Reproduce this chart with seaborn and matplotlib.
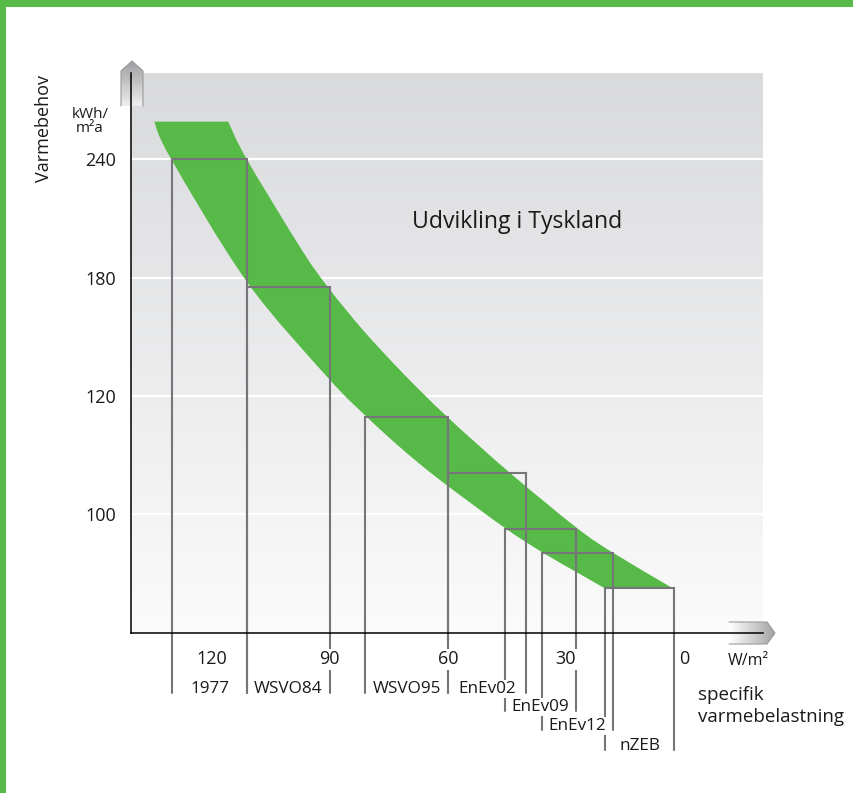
import numpy as np
import pandas as pd
import matplotlib
matplotlib.use("Agg")
import matplotlib.pyplot as plt
import matplotlib.transforms as mtransforms
from matplotlib.patches import Polygon, Rectangle, PathPatch
from matplotlib.path import Path
from matplotlib.lines import Line2D
import seaborn as sns

# ---- data -----------------------------------------------------------------
# Demand axis ticks (kWh/m²a); the axis is stretched piecewise, not linear
demand_ticks = [100, 120, 180, 240]
# Specific heating load axis ticks (W/m²), decreasing to the right
load_ticks = [120, 90, 60, 30, 0]

# Green band: upper/right edge and lower/left edge (load W/m², demand kWh/m²a)
band_upper_load = [115.8, 111.1, 97.1, 90.4, 81.6, 71.4, 60.2, 44.2, 27.2, 18.0, 2.8]
band_upper_demand = [259.0, 240.0, 194.0, 175.0, 153.5, 131.5, 116.5, 107.0, 97.7, 93.5, 87.5]
band_lower_load = [134.6, 130.4, 111.0, 90.4, 80.5, 71.4, 62.0, 45.5, 35.8, 27.2, 20.1]
band_lower_demand = [259.0, 240.4, 177.7, 129.1, 116.4, 110.9, 105.8, 97.7, 93.5, 90.2, 87.5]

# Building regulations: load range and demand level
standards = ["1977", "WSVO84", "WSVO95", "EnEv02", "EnEv09", "EnEv12", "nZEB"]
load_max = [130.0, 111.0, 81.0, 60.0, 45.5, 36.0, 20.0]
load_min = [111.0, 90.0, 60.0, 40.0, 27.5, 18.0, 2.5]
demand_max = [240.0, 175.0, 116.5, 107.0, 97.5, 93.5, 87.5]
label_row = [0, 0, 0, 0, 1, 2, 3]

# ---- style ----------------------------------------------------------------
sns.set_style("white")
plt.rcParams["font.family"] = ["Open Sans", "DejaVu Sans"]
TXT = "#1a1a1a"
GREEN = "#57b947"
FRAME_GRAY = "#76767a"

W, H = 854, 793
fig = plt.figure(figsize=(W / 100, H / 100), dpi=100)
fig.patch.set_facecolor("white")
# pixel coordinates, origin top-left
pxT = mtransforms.Affine2D().scale(1 / W, -1 / H).translate(0, 1) + fig.transFigure

ax_left, ax_right, ax_top, ax_bottom = 131, 763, 73.3, 632.7
ax = fig.add_axes([ax_left / W, (H - ax_bottom) / H,
                   (ax_right - ax_left) / W, (ax_bottom - ax_top) / H])


# piecewise-linear demand scale: 80..100..120 in 20 steps, then 60 steps
def fwd(v):
    v = np.asarray(v, dtype=float)
    return np.where(v <= 100, (v - 80) / 20,
                    np.where(v <= 120, 1 + (v - 100) / 20, 2 + (v - 120) / 60))


def inv(p):
    p = np.asarray(p, dtype=float)
    return np.where(p <= 1, 80 + 20 * p,
                    np.where(p <= 2, 100 + 20 * (p - 1), 120 + 60 * (p - 2)))


ax.set_yscale("function", functions=(fwd, inv))
y_lo, y_hi = 80.0, float(inv(4.725))
x_lo, x_hi = 140.5, -20.1
ax.set_xlim(x_lo, x_hi)
ax.set_ylim(y_lo, y_hi)
px_per_unit = (ax_bottom - ax_top) / 4.725


def below_axis(px):
    """demand value that sits px pixels below the x axis"""
    return float(inv(-px / px_per_unit))


# background gradient
grad = np.linspace(0, 1, 256)[:, None]
top_c = np.array([0.851, 0.855, 0.863])
bot_c = np.array([0.984, 0.984, 0.984])
img = top_c[None, None, :] * (1 - grad[..., None]) + bot_c[None, None, :] * grad[..., None]
ax.imshow(img, extent=[0, 1, 0, 1], transform=ax.transAxes, aspect="auto",
          zorder=0, interpolation="bilinear")

for v in demand_ticks:
    ax.axhline(v, color="white", lw=1.6, zorder=0.6)


# band: smooth (Catmull-Rom style Bezier) edges through the edge points
def smooth_segments(xs, ys):
    """Bezier control points through the given points, built in scale space."""
    P = np.column_stack([np.asarray(xs, float), fwd(ys)])
    Q = np.vstack([P[0], P, P[-1]])
    verts = []
    for i in range(1, len(Q) - 2):
        p0, p1, p2, p3 = Q[i - 1], Q[i], Q[i + 1], Q[i + 2]
        c1 = p1 + (p2 - p0) / 6.0
        c2 = p2 - (p3 - p1) / 6.0
        verts += [c1, c2, p2]
    V = np.array(verts)
    return np.column_stack([V[:, 0], inv(V[:, 1])])


up_start = (band_upper_load[0], band_upper_demand[0])
up_curve = smooth_segments(band_upper_load, band_upper_demand)
lo_curve = smooth_segments(band_lower_load[::-1], band_lower_demand[::-1])
verts = [up_start] + list(map(tuple, up_curve))
codes = [Path.MOVETO] + [Path.CURVE4] * len(up_curve)
verts.append((band_lower_load[-1], band_lower_demand[-1]))
codes.append(Path.LINETO)
verts += list(map(tuple, lo_curve))
codes += [Path.CURVE4] * len(lo_curve)
verts.append(up_start)
codes.append(Path.CLOSEPOLY)
ax.add_patch(PathPatch(Path(verts, codes), facecolor=GREEN, edgecolor="none", zorder=1.2))

# regulation frames, extended below the axis down to their label row
row_px = [60.5, 78.5, 97.5, 117.5]
rows = []
for i, name in enumerate(standards):
    bottom = below_axis(row_px[label_row[i]])
    for k, (lx, dy) in enumerate([(load_max[i], bottom), (load_max[i], demand_max[i]),
                                  (load_min[i], demand_max[i]), (load_min[i], bottom)]):
        rows.append({"standard": name, "step": k, "load": lx, "demand": dy})
frames = pd.DataFrame(rows)
n_before = len(ax.lines)
sns.lineplot(data=frames, x="load", y="demand", units="standard", estimator=None,
             sort=False, color=FRAME_GRAY, lw=1.5, ax=ax, legend=False)
for ln in ax.lines[n_before:]:
    ln.set_clip_on(False)
    ln.set_zorder(2)
    ln.set_solid_joinstyle("miter")

for i, name in enumerate(standards):
    cx = (load_max[i] + load_min[i]) / 2
    ax.text(cx, below_axis(row_px[label_row[i]]), name, ha="center", va="baseline",
            fontsize=12.3, color=TXT, zorder=4, clip_on=False,
            bbox=dict(facecolor="white", edgecolor="none", pad=0.6))

ax.set_xlabel("")
ax.set_ylabel("")

# axes, ticks
for s in ["top", "right"]:
    ax.spines[s].set_visible(False)
for s in ["left", "bottom"]:
    ax.spines[s].set_color("black")
    ax.spines[s].set_linewidth(1.1)
    ax.spines[s].set_zorder(2.5)
ax.set_xticks(load_ticks)
ax.set_xticklabels([str(t) for t in load_ticks])
ax.set_yticks(demand_ticks)
ax.set_yticklabels([str(t) for t in demand_ticks])
ax.yaxis.set_minor_locator(matplotlib.ticker.NullLocator())
ax.tick_params(axis="both", which="major", direction="out", length=6, width=1.1,
               color="black", labelsize=13, labelcolor=TXT)
ax.tick_params(axis="x", pad=6.5)
ax.tick_params(axis="y", pad=5)
ax.tick_params(which="minor", length=0)
ax.xaxis.set_zorder(3)
for t in ax.get_xticklabels():
    t.set_bbox(dict(facecolor="white", edgecolor="none", pad=1.0))


# gradient arrows at the axis ends
def gradient_arrow(verts, c0, c1, horizontal, outline):
    poly = Polygon(verts, closed=True, transform=pxT, facecolor="none", edgecolor="none")
    ax.add_patch(poly)
    poly.set_clip_on(False)
    xs = [v[0] for v in verts]
    ys = [v[1] for v in verts]
    x0, x1, y0, y1 = min(xs), max(xs), min(ys), max(ys)
    n = 48
    c0, c1 = np.array(c0), np.array(c1)
    for k in range(n):
        f = k / (n - 1)
        col = c0 * (1 - f) + c1 * f
        if horizontal:
            r = Rectangle((x0 + (x1 - x0) * k / n, y0), (x1 - x0) / n + 0.6, y1 - y0,
                          transform=pxT, facecolor=col, edgecolor="none", zorder=1.5)
        else:
            r = Rectangle((x0, y0 + (y1 - y0) * k / n), x1 - x0, (y1 - y0) / n + 0.6,
                          transform=pxT, facecolor=col, edgecolor="none", zorder=1.5)
        r.set_clip_path(poly)
        ax.add_patch(r)
    ox = [p[0] for p in outline]
    oy = [p[1] for p in outline]
    ln = Line2D(ox, oy, transform=pxT, color="#9a9a9a", lw=0.8, zorder=1.6, clip_on=False)
    ax.add_line(ln)


up_verts = [(121, 106), (121, 71), (132, 61), (143, 71), (143, 106)]
gradient_arrow(up_verts, (0.62, 0.62, 0.63), (0.93, 0.93, 0.94), False, up_verts)
right_verts = [(729, 622), (767, 622), (775, 633), (767, 644), (729, 644)]
gradient_arrow(right_verts, (1.0, 1.0, 1.0), (0.64, 0.64, 0.65), True, right_verts)

ax.set_xlim(x_lo, x_hi)
ax.set_ylim(y_lo, y_hi)

# texts
fig.text(44, 129, "Varmebehov", transform=pxT, rotation=90, ha="center", va="center",
         fontsize=13, color=TXT)
fig.text(90, 118, "kWh/", transform=pxT, ha="center", va="baseline", fontsize=11, color=TXT)
fig.text(90, 132, "m²a", transform=pxT, ha="center", va="baseline", fontsize=11, color=TXT)
fig.text(412, 228, "Udvikling i Tyskland", transform=pxT, ha="left", va="baseline",
         fontsize=16.6, color=TXT)
fig.text(728, 665, "W/m²", transform=pxT, ha="left", va="baseline", fontsize=11.5, color=TXT)
fig.text(698, 700, "specifik", transform=pxT, ha="left", va="baseline", fontsize=13.5, color=TXT)
fig.text(698, 722, "varmebelastning", transform=pxT, ha="left", va="baseline",
         fontsize=13.5, color=TXT)

# green frame along top and left edge
fig.add_artist(Rectangle((0, 0), 6, H, transform=pxT, facecolor=GREEN, edgecolor="none"))
fig.add_artist(Rectangle((0, 0), W, 7, transform=pxT, facecolor=GREEN, edgecolor="none"))

fig.savefig("out.png", dpi=100)
